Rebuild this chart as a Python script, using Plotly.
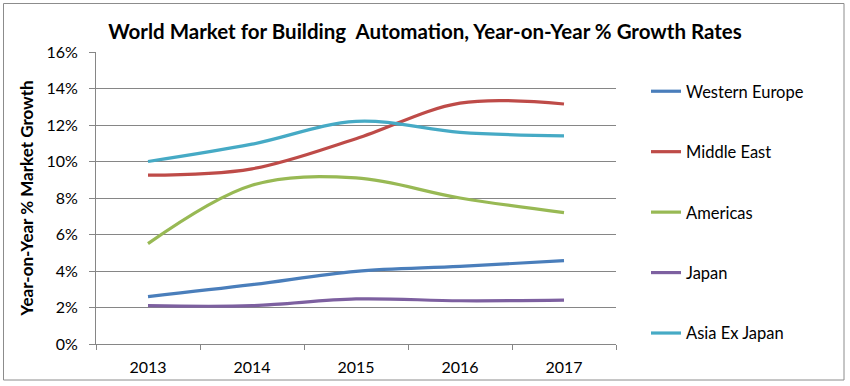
import plotly.graph_objects as go

years = ["2013", "2014", "2015", "2016", "2017"]
western_europe = [2.6, 3.25, 3.98, 4.25, 4.57]
middle_east = [9.25, 9.6, 11.25, 13.2, 13.15]
americas = [5.5, 8.7, 9.1, 8.0, 7.2]
japan = [2.1, 2.1, 2.47, 2.37, 2.4]
asia_ex_japan = [10.0, 10.95, 12.2, 11.6, 11.4]
y_ticks = [0, 2, 4, 6, 8, 10, 12, 14, 16]
y_tick_labels = ["0%", "2%", "4%", "6%", "8%", "10%", "12%", "14%", "16%"]

series = [
    ("Western Europe", western_europe, "#4A7EBB"),
    ("Middle East", middle_east, "#BE4B48"),
    ("Americas", americas, "#98B954"),
    ("Japan", japan, "#7D60A0"),
    ("Asia Ex Japan", asia_ex_japan, "#46AAC5"),
]

FONT = "Lato, 'Open Sans', sans-serif"
W, H = 850, 386

fig = go.Figure()
for i, (name, vals, color) in enumerate(series):
    fig.add_trace(go.Scatter(
        x=years, y=vals, name=name, mode="lines",
        line=dict(color=color, width=3.2, shape="spline", smoothing=1.0),
        legendgroup=f"g{i}",
    ))

grid = "#868686"
fig.update_layout(
    width=W, height=H,
    margin=dict(l=96, r=234, t=52, b=42, autoexpand=False),
    paper_bgcolor="white", plot_bgcolor="white",
    font=dict(family=FONT, size=16, color="black"),
    title=dict(
        text="<b>World Market for Building  Automation, Year-on-Year % Growth Rates</b>",
        x=0.5, xref="container", xanchor="center",
        y=1 - 32 / H, yref="container", yanchor="middle",
        font=dict(family=FONT, size=20.5, color="black"),
    ),
    showlegend=True,
    legend=dict(
        x=646 / W, xref="container", xanchor="left",
        y=1 - 74 / H, yref="container", yanchor="top",
        font=dict(family=FONT, size=16.5, color="black"),
        tracegroupgap=36, itemwidth=30, maxheight=400,
        bgcolor="rgba(0,0,0,0)",
    ),
    xaxis=dict(
        type="category", range=[-0.5, 4.5],
        showline=True, linecolor=grid, linewidth=1,
        ticks="outside", tickson="boundaries", ticklen=5, tickcolor=grid,
        showgrid=False, tickfont=dict(size=16), fixedrange=True,
        ticklabelstandoff=9,
    ),
    yaxis=dict(
        range=[0, 16], tickvals=y_ticks, ticktext=y_tick_labels,
        showline=True, linecolor=grid, linewidth=1,
        ticks="outside", ticklen=6, tickcolor=grid,
        showgrid=True, gridcolor=grid, gridwidth=1,
        zeroline=False, tickfont=dict(size=16),
        ticklabelstandoff=8,
        title=dict(text="<b>Year-on-Year % Market Growth</b>", font=dict(size=17), standoff=8),
    ),
    shapes=[dict(
        type="rect", xref="paper", yref="paper",
        x0=(3.5 - 96) / 520, x1=(844 - 96) / 520,
        y0=(344 - 380) / 292, y1=(344 - 3.5) / 292,
        line=dict(color="#8C8C8C", width=1), fillcolor="rgba(0,0,0,0)", layer="below",
    )],
)

fig.write_html(
    "out.html",
    config={"displayModeBar": False},
    post_script="document.body.style.margin='0';document.body.style.overflow='hidden';",
)
